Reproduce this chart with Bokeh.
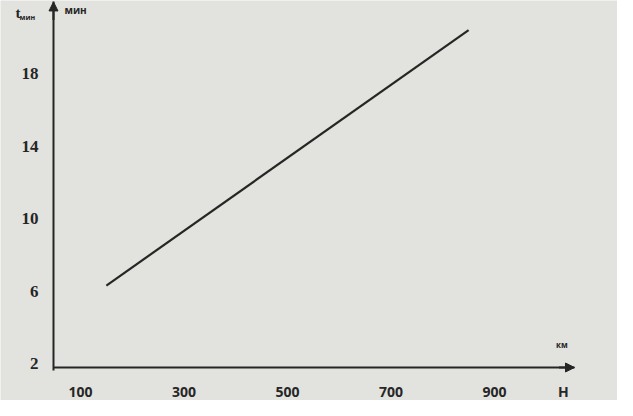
from bokeh.plotting import figure
from bokeh.models import Range1d, FixedTicker, Arrow, NormalHead, Label
from bokeh.embed import file_html
from bokeh.resources import INLINE

# data
H_km = [150, 850]
t_min = [6.3, 20.4]
x_ticks = [100, 300, 500, 700, 900]
y_ticks = [2, 6, 10, 14, 18]
x_axis_name = "H"
x_unit = "км"
y_name = "t"
y_sub = "мин"
y_unit = "мин"

BG = "#e2e2de"
INK = "#262626"

X0, X1 = -54.6, 1137.7
Y0, Y1 = -0.04, 22.03
XAX = 47.8      # where the vertical axis stands (H units)
YAX = 1.78      # where the horizontal axis stands (t units)
XEND = 1054.6
YEND = 21.95

p = figure(width=617, height=400, output_backend="svg", toolbar_location=None,
           x_range=Range1d(X0, X1), y_range=Range1d(Y0, Y1),
           min_border=0, min_border_left=0, min_border_right=0,
           min_border_top=0, min_border_bottom=0,
           background_fill_color=BG, border_fill_color=BG, outline_line_color=None)
p.grid.visible = False

p.line(H_km, t_min, line_color=INK, line_width=2.2)

xt = x_ticks + [1033]
p.xaxis.ticker = FixedTicker(ticks=xt)
p.xaxis.major_label_overrides = {1033: x_axis_name}
p.yaxis.ticker = FixedTicker(ticks=y_ticks)
p.xaxis.fixed_location = YAX
p.yaxis.fixed_location = XAX
p.xaxis.bounds = (XAX, XEND)
p.yaxis.bounds = (YAX - 0.15, YEND)
for ax in (p.xaxis, p.yaxis):
    ax.major_tick_out = 0
    ax.major_tick_in = 0
    ax.minor_tick_out = 0
    ax.minor_tick_in = 0
    ax.axis_line_color = INK
    ax.axis_line_width = 2
    ax.major_label_text_color = INK
    ax.major_label_text_font_style = "bold"
p.xaxis.major_label_text_font = "Open Sans"
p.xaxis.major_label_text_font_size = "14px"
p.xaxis.major_label_standoff = 14
p.yaxis.major_label_text_font = "Liberation Serif"
p.yaxis.major_label_text_font_size = "17px"
p.yaxis.major_label_standoff = 15

# arrow heads on axes
p.add_layout(Arrow(end=NormalHead(size=9, fill_color=INK, line_color=INK),
                   x_start=XAX, y_start=YEND - 1.0, x_end=XAX, y_end=YEND,
                   line_color=INK, line_width=2))
p.add_layout(Arrow(end=NormalHead(size=9, fill_color=INK, line_color=INK),
                   x_start=XEND - 30, y_start=YAX, x_end=XEND, y_end=YAX,
                   line_color=INK, line_width=2))

# unit labels
p.add_layout(Label(x=1019, y=2.77, text=x_unit, text_font="Open Sans", text_font_style="bold",
                   text_font_size="8px", text_color=INK))
p.add_layout(Label(x=69, y=21.14, text=y_unit, text_font="Open Sans", text_font_style="bold",
                   text_font_size="10px", text_color=INK))
p.add_layout(Label(x=-25.6, y=20.92, text=y_name, text_font="Liberation Serif",
                   text_font_style="bold", text_font_size="15px", text_color=INK))
p.add_layout(Label(x=-17.9, y=20.84, text=y_sub, text_font="Open Sans",
                   text_font_style="bold", text_font_size="7px", text_color=INK))

open("out.html", "w").write(file_html(p, INLINE))
